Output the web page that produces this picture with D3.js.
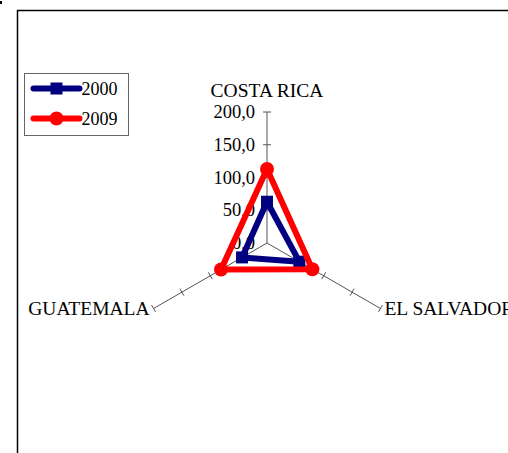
<!DOCTYPE html>
<html>
<head>
<meta charset="utf-8">
<script src="https://cdn.jsdelivr.net/npm/d3@7"></script>
<style>
  body { margin: 0; background: #fff; }
  svg text { font-family: "Liberation Serif", "Times New Roman", serif; font-size: 18px; fill: #000; }
  svg text.cat { font-size: 19.5px; }
  svg text.tick { font-size: 18.5px; }
</style>
</head>
<body>
<svg id="chart"></svg>
<script>
// Chart data
const countries = ["COSTA RICA", "EL SALVADOR", "GUATEMALA"];
const values2000 = [63, 57, 44];
const values2009 = [113, 80, 81];
const tickValues = [0, 50, 100, 150, 200];
const tickLabels = ["0,0", "50,0", "100,0", "150,0", "200,0"];
const seriesNames = ["2000", "2009"];

const width = 508;
const height = 453;

const svg = d3.select("#chart")
    .attr("width", width)
    .attr("height", height);

// small speck in the top-left corner of the original
svg.append("rect").attr("x", 0).attr("y", 1).attr("width", 2).attr("height", 3).attr("fill", "#000");

// Outer chart border (runs off the right and bottom edges)
svg.append("rect")
    .attr("x", 17.5).attr("y", 10.5)
    .attr("width", 600).attr("height", 600)
    .attr("fill", "none")
    .attr("stroke", "#000")
    .attr("stroke-width", 1.5);

// Radar geometry
const cx = 267, cy = 243;
const r = d3.scaleLinear().domain([0, 200]).range([0, 131]);
const angle = i => -Math.PI / 2 + i * 2 * Math.PI / countries.length;
const pt = (i, v) => [cx + Math.cos(angle(i)) * r(v), cy + Math.sin(angle(i)) * r(v)];

const g = svg.append("g");

// Axes with tick marks
countries.forEach((c, i) => {
    const end = pt(i, 200);
    g.append("line")
        .attr("x1", cx).attr("y1", cy)
        .attr("x2", end[0]).attr("y2", end[1])
        .attr("stroke", "#555")
        .attr("stroke-width", 1);

    const a = angle(i);
    const px = -Math.sin(a), py = Math.cos(a);
    tickValues.slice(1).forEach(t => {
        const p = pt(i, t);
        g.append("line")
            .attr("x1", p[0] - px * 4).attr("y1", p[1] - py * 4)
            .attr("x2", p[0] + px * 4).attr("y2", p[1] + py * 4)
            .attr("stroke", "#555")
            .attr("stroke-width", 1);
    });
});

// Value labels on the first axis
tickValues.forEach((t, k) => {
    const p = pt(0, t);
    g.append("text")
        .attr("class", "tick")
        .attr("x", p[0] - 12)
        .attr("y", p[1] + 6)
        .attr("text-anchor", "end")
        .text(tickLabels[k]);
});

// Category labels
const e0 = pt(0, 200), e1 = pt(1, 200), e2 = pt(2, 200);
g.append("text").attr("class", "cat").attr("x", e0[0]).attr("y", e0[1] - 15)
    .attr("text-anchor", "middle").text(countries[0]);
g.append("text").attr("class", "cat").attr("x", e1[0] + 4).attr("y", e1[1] + 6)
    .attr("text-anchor", "start").text(countries[1]);
g.append("text").attr("class", "cat").attr("x", e2[0] - 4).attr("y", e2[1] + 6)
    .attr("text-anchor", "end").text(countries[2]);

// Series
const series = [
    { name: seriesNames[0], values: values2000, color: "#000080", marker: "square" },
    { name: seriesNames[1], values: values2009, color: "#ff0000", marker: "circle" }
];

const line = d3.line().curve(d3.curveLinearClosed);

function drawMarker(sel, x, y, s) {
    if (s.marker === "square") {
        sel.append("rect")
            .attr("x", x - 6).attr("y", y - 6)
            .attr("width", 12).attr("height", 12)
            .attr("fill", s.color);
    } else {
        sel.append("circle")
            .attr("cx", x).attr("cy", y).attr("r", 7)
            .attr("fill", s.color);
    }
}

series.forEach(s => {
    const pts = s.values.map((v, i) => pt(i, v));
    g.append("path")
        .attr("d", line(pts))
        .attr("fill", "none")
        .attr("stroke", s.color)
        .attr("stroke-width", 6)
        .attr("stroke-linejoin", "round");
    pts.forEach(p => drawMarker(g, p[0], p[1], s));
});

// Legend
const legend = svg.append("g").attr("transform", "translate(24.5, 73.5)");
legend.append("rect")
    .attr("width", 104).attr("height", 62)
    .attr("fill", "#fff")
    .attr("stroke", "#666")
    .attr("stroke-width", 1);

series.forEach((s, k) => {
    const y = 15 + k * 30;
    legend.append("line")
        .attr("x1", 9).attr("x2", 55)
        .attr("y1", y).attr("y2", y)
        .attr("stroke", s.color)
        .attr("stroke-width", 6)
        .attr("stroke-linecap", "round");
    drawMarker(legend, 32, y, s);
    legend.append("text")
        .attr("x", 57).attr("y", y + 6)
        .text(s.name);
});
</script>
</body>
</html>
